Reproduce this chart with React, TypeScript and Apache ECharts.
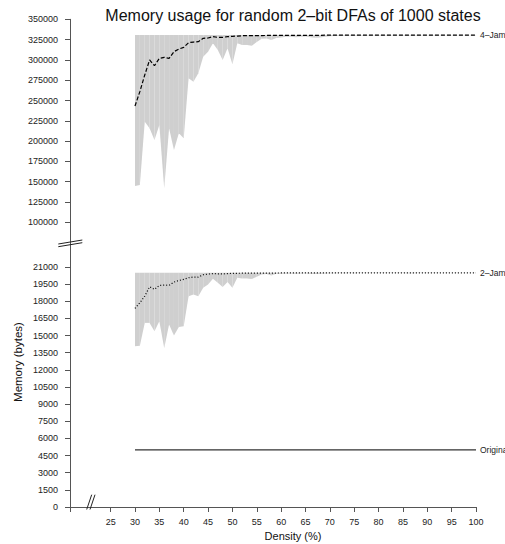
import React, { useEffect, useRef } from "react";
import * as echarts from "echarts";

const densities = [
  30, 31, 32, 33, 34, 35, 36, 37, 38, 39,
  40, 41, 42, 43, 44, 45, 46, 47, 48, 49,
  50, 51, 52, 53, 54, 55, 56, 57, 58, 59,
  60, 61, 62, 63, 64, 65, 66, 67, 68, 69,
  70, 71, 72, 73, 74, 75, 76, 77, 78, 79,
  80, 81, 82, 83, 84, 85, 86, 87, 88, 89,
  90, 91, 92, 93, 94, 95, 96, 97, 98, 99,
  100,
];

const jam4Mean = [
  243200, 260900, 281400, 299900, 292900, 301900, 303200, 301900, 310100, 313400,
  315500, 321200, 322000, 322500, 326600, 327000, 328600, 327800, 327800, 328600,
  329000, 329400, 329800, 329800, 329900, 330000, 330000, 330100, 330100, 330100,
  330200, 330200, 330200, 330300, 330200, 330300, 330300, 330300, 330300, 330400,
  330400, 330400, 330400, 330400, 330400, 330400, 330500, 330400, 330500, 330500,
  330500, 330500, 330500, 330500, 330500, 330500, 330500, 330500, 330500, 330500,
  330500, 330500, 330500, 330500, 330500, 330500, 330500, 330500, 330500, 330500,
  330500,
];

const jam4Min = [
  144700, 145900, 223900, 215700, 201400, 219800, 141800, 215700, 189000, 209600,
  203400, 277300, 273200, 283500, 304000, 310100, 320400, 312200, 299900, 314300,
  294500, 320400, 318400, 318400, 317500, 322000, 326000, 326500, 324500, 327000,
  327500, 328500, 328500, 328000, 328500, 328800, 328000, 327200, 327500, 328500,
  329000, 329500, 329800, 329600, 330000, 329800, 330000, 330100, 330000, 330200,
  330200, 330000, 330200, 330300, 330300, 330100, 329900, 330000, 330200, 330300,
  330300, 330200, 330300, 330400, 330300, 330400, 330300, 330400, 330400, 330400,
  330400,
];

const jam4Max = [
  330700, 330700, 330700, 330700, 330700, 330700, 330700, 330700, 330700, 330700,
  330700, 330700, 330700, 330700, 330700, 330700, 330700, 330700, 330700, 330700,
  330700, 330700, 330700, 330700, 330700, 330700, 330700, 330700, 330700, 330700,
  330700, 330700, 330700, 330700, 330700, 330700, 330700, 330700, 330700, 330700,
  330700, 330700, 330700, 330700, 330700, 330700, 330700, 330700, 330700, 330700,
  330700, 330700, 330700, 330700, 330700, 330700, 330700, 330700, 330700, 330700,
  330700, 330700, 330700, 330700, 330700, 330700, 330700, 330700, 330700, 330700,
  330700,
];

const jam2Mean = [
  17370, 17870, 18450, 19270, 19040, 19390, 19420, 19390, 19680, 19820,
  19910, 20060, 20120, 20120, 20320, 20380, 20420, 20400, 20400, 20420,
  20440, 20450, 20460, 20460, 20460, 20470, 20470, 20470, 20470, 20470,
  20480, 20480, 20480, 20480, 20480, 20480, 20480, 20480, 20480, 20480,
  20480, 20480, 20480, 20480, 20480, 20480, 20490, 20480, 20490, 20490,
  20490, 20490, 20490, 20490, 20490, 20490, 20490, 20490, 20490, 20490,
  20490, 20490, 20490, 20490, 20490, 20490, 20490, 20490, 20490, 20490,
  20490,
];

const jam2Min = [
  14060, 14120, 16110, 16110, 15380, 16250, 13920, 15960, 15000, 15760,
  15820, 18450, 18600, 18450, 19180, 19470, 19970, 19620, 19240, 19680,
  19180, 20060, 20000, 20000, 19950, 20150, 20350, 20380, 20250, 20400,
  20420, 20440, 20430, 20400, 20440, 20450, 20400, 20380, 20400, 20440,
  20450, 20460, 20470, 20460, 20470, 20460, 20470, 20480, 20470, 20480,
  20480, 20470, 20480, 20480, 20480, 20470, 20450, 20460, 20480, 20480,
  20480, 20480, 20480, 20490, 20480, 20490, 20480, 20490, 20490, 20490,
  20490,
];

const jam2Max = [
  20500, 20500, 20500, 20500, 20500, 20500, 20500, 20500, 20500, 20500,
  20500, 20500, 20500, 20500, 20500, 20500, 20500, 20500, 20500, 20500,
  20500, 20500, 20500, 20500, 20500, 20500, 20500, 20500, 20500, 20500,
  20500, 20500, 20500, 20500, 20500, 20500, 20500, 20500, 20500, 20500,
  20500, 20500, 20500, 20500, 20500, 20500, 20500, 20500, 20500, 20500,
  20500, 20500, 20500, 20500, 20500, 20500, 20500, 20500, 20500, 20500,
  20500, 20500, 20500, 20500, 20500, 20500, 20500, 20500, 20500, 20500,
  20500,
];

const original = [
  5000, 5000, 5000, 5000, 5000, 5000, 5000, 5000, 5000, 5000,
  5000, 5000, 5000, 5000, 5000, 5000, 5000, 5000, 5000, 5000,
  5000, 5000, 5000, 5000, 5000, 5000, 5000, 5000, 5000, 5000,
  5000, 5000, 5000, 5000, 5000, 5000, 5000, 5000, 5000, 5000,
  5000, 5000, 5000, 5000, 5000, 5000, 5000, 5000, 5000, 5000,
  5000, 5000, 5000, 5000, 5000, 5000, 5000, 5000, 5000, 5000,
  5000, 5000, 5000, 5000, 5000, 5000, 5000, 5000, 5000, 5000,
  5000,
];

const xTicks = [16.66, 25, 30, 35, 40, 45, 50, 55, 60, 65, 70, 75, 80, 85, 90, 95, 100];
const xLabels = [25, 30, 35, 40, 45, 50, 55, 60, 65, 70, 75, 80, 85, 90, 95, 100];
const topTicks = [100000, 125000, 150000, 175000, 200000, 225000, 250000, 275000, 300000, 325000, 350000];
const bottomTicks = [0, 1500, 3000, 4500, 6000, 7500, 9000, 10500, 12000, 13500, 15000, 16500, 18000, 19500, 21000];

const TITLE = "Memory usage for random 2–bit DFAs of 1000 states";
const XNAME = "Density (%)";
const YNAME = "Memory (bytes)";

const FONT = "'Liberation Sans', Arial, Helvetica, sans-serif";
const AXIS_COLOR = "#555";
const TEXT_COLOR = "#222";
const GRAY = "#cfcfcf";

const zip = (ys: number[]) => densities.map((d, i) => [d, ys[i]]);
const bandData = (mins: number[], maxs: number[]) => densities.map((d, i) => [d, mins[i], maxs[i]]);

export default function App() {
  const ref = useRef<HTMLDivElement>(null);

  useEffect(() => {
    if (!ref.current) return;
    const chart = echarts.init(ref.current, null, { renderer: "svg" });

    const yAxisCommon = (ticks: number[], min: number, max: number, gridIndex: number) => ({
      type: "value",
      gridIndex,
      min,
      max,
      splitLine: { show: false },
      axisLine: { show: true, lineStyle: { color: AXIS_COLOR, width: 1 } },
      axisTick: { show: true, length: 5, customValues: ticks, lineStyle: { color: AXIS_COLOR, width: 1 } },
      axisLabel: {
        customValues: ticks,
        fontSize: 9,
        color: TEXT_COLOR,
        fontFamily: FONT,
        margin: 12,
        formatter: (v: number) => String(v),
      },
    });

    const lineBase = {
      type: "line",
      symbol: "none",
      showSymbol: false,
      silent: true,
    };

    const band = (mins: number[], maxs: number[], idx: number) => ({
      type: "custom",
      xAxisIndex: idx,
      yAxisIndex: idx,
      silent: true,
      data: bandData(mins, maxs),
      encode: { x: 0, y: [1, 2] },
      renderItem: (params: any, api: any) => {
        const i = params.dataIndex;
        if (i >= densities.length - 1) return null;
        const p1 = api.coord([densities[i], maxs[i]]);
        const p2 = api.coord([densities[i + 1], maxs[i + 1]]);
        const p3 = api.coord([densities[i + 1], mins[i + 1]]);
        const p4 = api.coord([densities[i], mins[i]]);
        return {
          type: "polygon",
          shape: { points: [p1, p2, p3, p4] },
          style: { fill: GRAY, stroke: null },
        };
      },
      z: 1,
    });

    const endLabel = (text: string) => ({
      show: true,
      formatter: text,
      fontSize: 8.5,
      color: TEXT_COLOR,
      fontFamily: FONT,
      distance: 4,
    });

    const option: any = {
      animation: false,
      backgroundColor: "#fff",
      textStyle: { fontFamily: FONT },
      grid: [
        { left: 70, top: 19.3, width: 406, height: 242.7 },
        { left: 70, top: 262, width: 406, height: 245 },
      ],
      xAxis: [
        { type: "value", gridIndex: 0, min: 16.66, max: 100, show: false },
        {
          type: "value",
          gridIndex: 1,
          min: 16.66,
          max: 100,
          splitLine: { show: false },
          axisLine: { show: true, lineStyle: { color: AXIS_COLOR, width: 1 } },
          axisTick: { show: true, length: 5, customValues: xTicks, lineStyle: { color: AXIS_COLOR, width: 1 } },
          axisLabel: {
            customValues: xLabels,
            fontSize: 9,
            color: TEXT_COLOR,
            fontFamily: FONT,
            margin: 10,
          },
        },
      ],
      yAxis: [
        yAxisCommon(topTicks, 51110, 350000, 0),
        yAxisCommon(bottomTicks, 0, 21437.5, 1),
      ],
      series: [
        band(jam4Min, jam4Max, 0),
        {
          ...lineBase,
          name: "4–Jam",
          xAxisIndex: 0,
          yAxisIndex: 0,
          data: zip(jam4Mean),
          lineStyle: { color: "#000", width: 1.2, type: [4, 2] },
          endLabel: endLabel("4–Jam"),
          z: 3,
        },
        band(jam2Min, jam2Max, 1),
        {
          ...lineBase,
          name: "2–Jam",
          xAxisIndex: 1,
          yAxisIndex: 1,
          data: zip(jam2Mean),
          lineStyle: { color: "#000", width: 1.2, type: [1, 2] },
          endLabel: endLabel("2–Jam"),
          z: 3,
        },
        {
          ...lineBase,
          name: "Original",
          xAxisIndex: 1,
          yAxisIndex: 1,
          data: zip(original),
          lineStyle: { color: "#333", width: 1.3, type: "solid" },
          endLabel: endLabel("Original"),
          z: 3,
        },
      ],
      graphic: [
        {
          type: "text",
          x: 293,
          y: 15.5,
          style: {
            text: TITLE,
            fontSize: 16,
            fontFamily: FONT,
            fill: "#111",
            align: "center",
            verticalAlign: "middle",
          },
        },
        {
          type: "text",
          x: 293,
          y: 536,
          style: {
            text: XNAME,
            fontSize: 11,
            fontFamily: FONT,
            fill: "#111",
            align: "center",
            verticalAlign: "middle",
          },
        },
        {
          type: "text",
          x: 18,
          y: 362,
          rotation: Math.PI / 2,
          style: {
            text: YNAME,
            fontSize: 11.5,
            fontFamily: FONT,
            fill: "#111",
            align: "center",
            verticalAlign: "middle",
          },
        },
        {
          type: "line",
          shape: { x1: 58.3, y1: 244, x2: 82.3, y2: 240 },
          style: { stroke: "#222", lineWidth: 1 },
          z: 100,
        },
        {
          type: "line",
          shape: { x1: 58.3, y1: 246.7, x2: 82.3, y2: 242.7 },
          style: { stroke: "#222", lineWidth: 1 },
          z: 100,
        },
        {
          type: "line",
          shape: { x1: 86.7, y1: 509.5, x2: 91.7, y2: 494.7 },
          style: { stroke: "#222", lineWidth: 1 },
          z: 100,
        },
        {
          type: "line",
          shape: { x1: 90, y1: 509.5, x2: 95, y2: 494.7 },
          style: { stroke: "#222", lineWidth: 1 },
          z: 100,
        },
      ],
    };

    chart.setOption(option);
    return () => chart.dispose();
  }, []);

  return (
    <div
      ref={ref}
      style={{ position: "absolute", left: 0, top: 0, width: 505, height: 544, background: "#fff" }}
    />
  );
}
